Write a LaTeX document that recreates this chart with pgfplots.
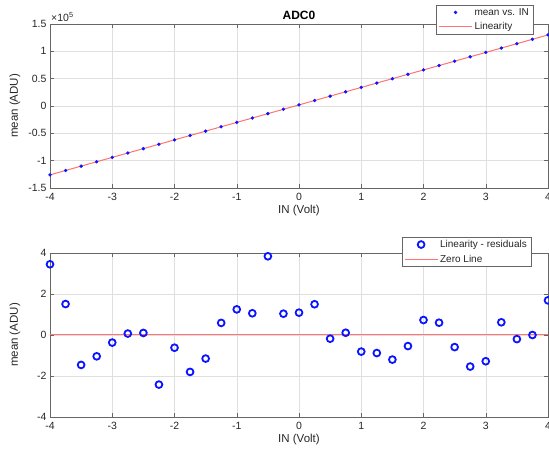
\documentclass[border=0pt]{standalone}
\usepackage{pgfplots}
\pgfplotsset{compat=1.18}
\usepackage{fontspec}
\setmainfont{Liberation Sans}
\definecolor{mred}{RGB}{255,115,115}
\definecolor{mblue}{RGB}{10,20,255}
\definecolor{axcol}{RGB}{38,38,38}
\definecolor{gridc}{RGB}{223,223,223}
\pgfplotsset{
  legend image code/.code={\draw[mark repeat=2,mark phase=2,#1] plot coordinates {(0cm,0cm) (0.58cm,0cm) (1.16cm,0cm)};},
  mstyle/.style={
    scale only axis, width=498pt, height=164pt, clip=false,
    xmin=-4, xmax=4, xtick={-4,-3,...,4},
    grid=major, major grid style={gridc, line width=0.5pt},
    axis line style={black!60, line width=0.6pt},
    tick align=inside, major tick length=4pt,
    tick style={black!60, line width=0.5pt},
    tick label style={font=\fontsize{10.5}{12}\selectfont, text=axcol},
    xticklabel style={yshift=-1.5pt},
    /pgf/number format/assume math mode=true,
    label style={font=\fontsize{11.5}{13}\selectfont, text=axcol},
    xlabel={IN (Volt)},
    ylabel={mean (ADU)},
    xlabel style={at={(axis description cs:0.5,-0.14)}, anchor=center},
    ylabel style={at={(axis description cs:-0.0703,0.5)}, anchor=center},
    legend cell align=left,
    legend style={font=\fontsize{10}{11}\selectfont, text=axcol, draw=black!60, line width=0.5pt, fill=white, inner xsep=2pt, inner ysep=1pt, row sep=2pt},
  }
}
\begin{document}
\begin{tikzpicture}
\useasboundingbox (0pt,0pt) rectangle (549pt,454pt);
\begin{axis}[mstyle, at={(50pt,266pt)}, anchor=south west,
  ymin=-150000, ymax=150000,
  ytick={-150000,-100000,-50000,0,50000,100000,150000},
  yticklabels={-1.5,-1,-0.5,0,0.5,1,1.5},
  scaled y ticks=false,
  legend style={at={(axis description cs:0.970,1.116)}, anchor=north east},
]
\addplot[only marks, mark=*, mark size=1.5pt, draw=mblue, fill=mblue] coordinates {
(-4,-125997) (-3.75,-117998) (-3.5,-110001) (-3.25,-102001) (-3,-94000)
(-2.75,-86000) (-2.5,-78000) (-2.25,-70002) (-2,-62001) (-1.75,-54002)
(-1.5,-46001) (-1.25,-37999) (-1,-29999) (-0.75,-21999) (-0.5,-13996)
(-0.25,-5999) (0,2001) (0.25,10002) (0.5,18000) (0.75,26000)
(1,33999) (1.25,41999) (1.5,49999) (1.75,57999) (2,66001)
(2.25,74001) (2.5,81999) (2.75,89998) (3,97999) (3.25,106001)
(3.5,114000) (3.75,122000) (4,130002)
};
\addlegendentry{mean vs. IN}
\addplot[draw=mred, line width=1pt] coordinates {(-4,-126000) (4,130000)};
\addlegendentry{Linearity}
\node[anchor=south west, font=\fontsize{10.5}{12}\selectfont, text=axcol, inner sep=1pt] at (axis description cs:0,1.005) {×10\textsuperscript{5}};
\node[anchor=base, font=\bfseries\fontsize{12}{13}\selectfont, inner sep=0pt] at ([yshift=4pt]axis description cs:0.5,1) {ADC0};
\end{axis}
\begin{axis}[mstyle, at={(50pt,37pt)}, anchor=south west,
  ymin=-4, ymax=4, ytick={-4,-2,0,2,4},
  legend style={at={(axis description cs:0.966,1.098)}, anchor=north east},
]
\addplot[only marks, mark=o, mark size=3.4pt, mark options={line width=1.8pt, draw=mblue}, draw=mblue] coordinates {
(-4,3.45) (-3.75,1.51) (-3.5,-1.46) (-3.25,-1.04) (-3,-0.37)
(-2.75,0.07) (-2.5,0.10) (-2.25,-2.42) (-2,-0.62) (-1.75,-1.80)
(-1.5,-1.15) (-1.25,0.59) (-1,1.25) (-0.75,1.06) (-0.5,3.84)
(-0.25,1.04) (0,1.09) (0.25,1.50) (0.5,-0.18) (0.75,0.11)
(1,-0.81) (1.25,-0.88) (1.5,-1.20) (1.75,-0.54) (2,0.73)
(2.25,0.60) (2.5,-0.59) (2.75,-1.54) (3,-1.28) (3.25,0.62)
(3.5,-0.20) (3.75,0.0) (4,1.69)
};
\addlegendentry{Linearity - residuals}
\addplot[draw=mred, line width=1pt] coordinates {(-4,0) (4,0)};
\addlegendentry{Zero Line}
\end{axis}
\end{tikzpicture}
\end{document}
